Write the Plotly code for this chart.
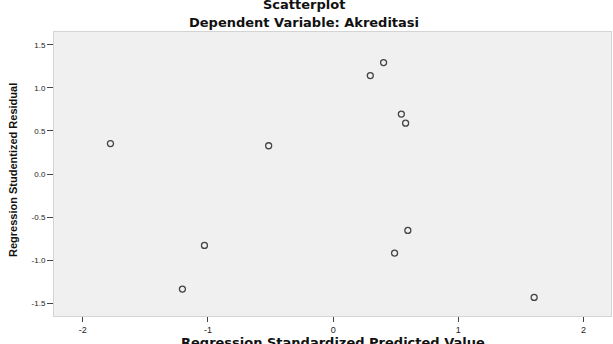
import plotly.graph_objects as go

# Data
pred_values = [-1.779, -0.515, -1.028, -1.204, 0.297, 0.403, 0.545, 0.579, 0.597, 0.491, 1.606]
resid_values = [0.354, 0.328, -0.830, -1.337, 1.144, 1.295, 0.696, 0.591, -0.656, -0.919, -1.434]

x_tickvals = [-2, -1, 0, 1, 2]
x_ticktext = ["-2", "-1", "0", "1", "2"]
y_tickvals = [1.5, 1.0, 0.5, 0.0, -0.5, -1.0, -1.5]
y_ticktext = ["1.5", "1.0", "0.5", "0.0", "-0.5", "-1.0", "-1.5"]

fig = go.Figure()
fig.add_trace(go.Scatter(
    x=pred_values, y=resid_values, mode="markers",
    marker=dict(symbol="circle-open", size=6, color="#444444", line=dict(width=1.3, color="#444444")),
    showlegend=False,
))

font = "Liberation Sans, Arial, sans-serif"
wide = "DejaVu Sans, sans-serif"
fig.update_layout(
    width=613, height=344,
    margin=dict(l=54, r=2, t=32, b=28),
    paper_bgcolor="white",
    plot_bgcolor="#f0f0f0",
    font=dict(family=font, color="#222222", size=9),
    xaxis=dict(range=[-2.23, 2.22], tickvals=x_tickvals, ticktext=x_ticktext,
               ticks="outside", ticklen=5, tickcolor="#444444", tickwidth=1,
               showgrid=False, zeroline=False, showline=True, linecolor="#d4d4d4",
               mirror=True, tickfont=dict(size=9)),
    yaxis=dict(range=[-1.65, 1.65], tickvals=y_tickvals, ticktext=y_ticktext,
               ticks="outside", ticklen=6, tickcolor="#444444", tickwidth=1,
               showgrid=False, zeroline=False, showline=True, linecolor="#d4d4d4",
               mirror=True, tickfont=dict(size=8)),
    annotations=[
        dict(text="<b>Scatterplot</b>", xref="paper", yref="paper", x=0.449, y=1, yshift=28,
             showarrow=False, font=dict(size=13, family=wide, color="#111111"),
             xanchor="center", yanchor="middle"),
        dict(text="<b>Dependent Variable: Akreditasi</b>", xref="paper", yref="paper", x=0.449, y=1, yshift=10,
             showarrow=False, font=dict(size=13, family=wide, color="#111111"),
             xanchor="center", yanchor="middle"),
        dict(text="<b>Regression Standardized Predicted Value</b>", xref="paper", yref="paper", x=0.5, y=0, yshift=-26,
             showarrow=False, font=dict(size=13, family=wide, color="#111111"),
             xanchor="center", yanchor="middle"),
        dict(text="<b>Regression Studentized Residual</b>", xref="paper", yref="paper", x=0, xshift=-41, y=0.5, yshift=4,
             textangle=-90, showarrow=False, font=dict(size=11, family=font, color="#111111"),
             xanchor="center", yanchor="middle"),
    ],
)

fig.write_html("out.html")
